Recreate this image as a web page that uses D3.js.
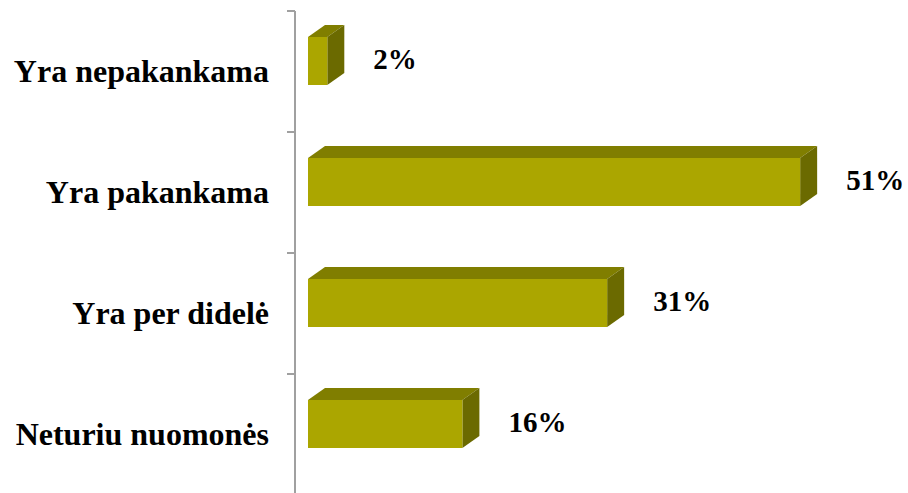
<!DOCTYPE html>
<html>
<head>
<meta charset="utf-8">
<script src="https://cdn.jsdelivr.net/npm/d3@7"></script>
<style>
  html, body { margin: 0; padding: 0; background: #ffffff; }
  svg { display: block; }
</style>
</head>
<body>
<div id="chart"></div>
<script>
const categories = ["Yra nepakankama", "Yra pakankama", "Yra per didelė", "Neturiu nuomonės"];
const values = [2, 51, 31, 16];
const valueLabels = ["2%", "51%", "31%", "16%"];

const W = 908, H = 493;
const svg = d3.select("#chart").append("svg").attr("width", W).attr("height", H);

const axisX = 295;
const x = d3.scaleLinear().domain([0, 60]).range([308, 308 + 579]);
const y = d3.scaleBand().domain(categories).range([11, 495]).paddingInner(0).paddingOuter(0);

const depthX = 17, depthY = 12;
const barH = 48;
const barTopOffset = 26;

const colFront = "#aba600", colTop = "#807e00", colSide = "#6b6a00";
const fontFam = "'Liberation Serif', 'Times New Roman', serif";

// axis line
svg.append("line")
  .attr("x1", axisX).attr("x2", axisX)
  .attr("y1", y.range()[0]).attr("y2", H)
  .attr("stroke", "#a0a0a0").attr("stroke-width", 2);

// ticks at band boundaries
svg.selectAll("line.tick")
  .data(categories)
  .join("line")
  .attr("class", "tick")
  .attr("x1", axisX - 8).attr("x2", axisX)
  .attr("y1", d => y(d)).attr("y2", d => y(d))
  .attr("stroke", "#a0a0a0").attr("stroke-width", 2);

const g = svg.selectAll("g.bar")
  .data(categories.map((c, i) => ({ c, v: values[i], label: valueLabels[i] })))
  .join("g").attr("class", "bar");

g.each(function(d) {
  const sel = d3.select(this);
  const x0 = x(0), x1 = x(d.v);
  const yt = y(d.c) + barTopOffset, yb = yt + barH;
  // top face
  sel.append("path")
    .attr("d", `M${x0},${yt} L${x0 + depthX},${yt - depthY} L${x1 + depthX},${yt - depthY} L${x1},${yt} Z`)
    .attr("fill", colTop);
  // side face
  sel.append("path")
    .attr("d", `M${x1},${yt} L${x1 + depthX},${yt - depthY} L${x1 + depthX},${yb - depthY} L${x1},${yb} Z`)
    .attr("fill", colSide);
  // front face
  sel.append("rect")
    .attr("x", x0).attr("y", yt)
    .attr("width", x1 - x0).attr("height", barH)
    .attr("fill", colFront);
  // value label
  sel.append("text")
    .attr("x", x1 + depthX + 29)
    .attr("y", yt + barH / 2 + 8)
    .attr("font-family", fontFam)
    .attr("font-weight", "bold")
    .attr("font-size", 29)
    .attr("fill", "#000")
    .text(d.label);
});

// category labels
svg.selectAll("text.cat")
  .data(categories)
  .join("text")
  .attr("class", "cat")
  .attr("x", 269)
  .attr("y", d => y(d) + y.bandwidth() / 2 + 10)
  .attr("text-anchor", "end")
  .attr("font-family", fontFam)
  .attr("font-weight", "bold")
  .attr("font-size", 32)
  .attr("fill", "#000")
  .text(d => d);
</script>
</body>
</html>
